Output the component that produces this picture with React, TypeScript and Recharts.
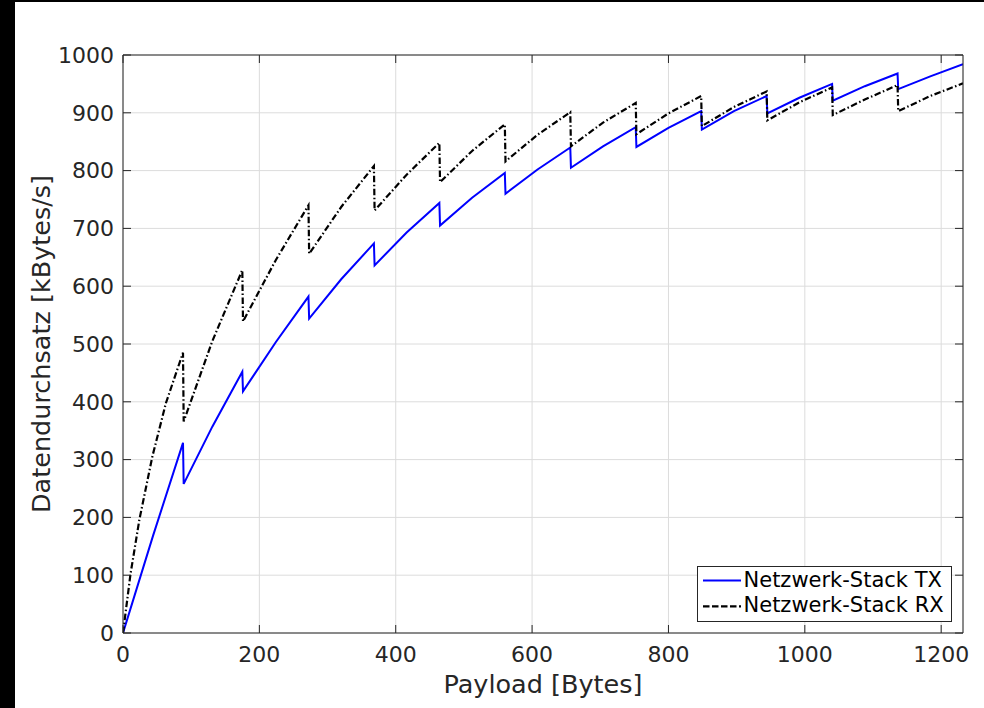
import React from 'react';
import { LineChart, Line, XAxis, YAxis, CartesianGrid, Legend } from 'recharts';

// ---- data ----
const xTicks = [0, 200, 400, 600, 800, 1000, 1200];
const yTicks = [0, 100, 200, 300, 400, 500, 600, 700, 800, 900, 1000];

const txPayload = [0, 44, 88, 89, 131, 175, 176, 224, 272, 273, 320, 368, 369, 416, 464, 465, 512, 560, 561, 608, 656, 657, 704, 752, 753, 800, 848, 849, 896, 944, 945, 992, 1040, 1041, 1088, 1136, 1137, 1184, 1232];
const txThroughput = [0, 168, 329, 258, 357, 452, 418, 503, 582, 544, 612, 674, 636, 693, 744, 705, 753, 796, 760, 802, 840, 805, 842, 875, 841, 874, 903, 871, 903, 929, 899, 926, 950, 921, 946, 968, 941, 963, 984];

const rxPayload = [0, 11, 24, 43, 63, 88, 89, 131, 175, 176, 224, 272, 273, 320, 368, 369, 416, 464, 465, 512, 560, 561, 608, 656, 657, 704, 752, 753, 800, 848, 849, 896, 944, 945, 992, 1040, 1041, 1088, 1136, 1137, 1184, 1232];
const rxThroughput = [0, 102, 196, 305, 398, 485, 366, 505, 628, 539, 645, 740, 656, 737, 808, 731, 793, 848, 780, 834, 880, 816, 862, 901, 842, 883, 917, 863, 899, 929, 877, 910, 937, 887, 918, 944, 896, 923, 948, 903, 929, 951];

const seriesNames = ['Netzwerk-Stack TX', 'Netzwerk-Stack RX'];
const xLabel = 'Payload [Bytes]';
const yLabel = 'Datendurchsatz [kBytes/s]';

const txData = txPayload.map((x, i) => ({ x, y: txThroughput[i] }));
const rxData = rxPayload.map((x, i) => ({ x, y: rxThroughput[i] }));

const FONT = 'DejaVu Sans';
const AXIS = '#262626';
const X_DOMAIN: [number, number] = [0, 1232];
const Y_DOMAIN: [number, number] = [0, 1000];
const RX_DASH = '6.5 2.5 1.5 2.5';

const renderLegend = () => (
  <svg width={256} height={57} style={{ display: 'block' }}>
    <rect x={0.5} y={0.5} width={254} height={55} fill="#ffffff" stroke={AXIS} strokeWidth={1} />
    <line x1={6} x2={44} y1={14.6} y2={14.6} stroke="#0000ff" strokeWidth={2} />
    <text x={46.5} y={21} fontFamily={FONT} fontSize={21} fill="#000">{seriesNames[0]}</text>
    <line x1={6} x2={44} y1={40.3} y2={40.3} stroke="#000" strokeWidth={2.2} strokeDasharray="6.5 2.5" />
    <text x={46.5} y={46} fontFamily={FONT} fontSize={21} fill="#000">{seriesNames[1]}</text>
  </svg>
);

export default function App() {
  return (
    <div style={{ position: 'absolute', left: 0, top: 0, width: 984, height: 708, background: '#000' }}>
      <div style={{ position: 'absolute', left: 15, top: 2, width: 969, height: 706, background: '#fff' }} />
      <div style={{ position: 'absolute', left: 0, top: 0 }}>
        <LineChart width={984} height={708} margin={{ top: 55, right: 21, bottom: 0, left: 0 }}>
          <CartesianGrid stroke="#dcdcdc" strokeWidth={1} />
          <XAxis
            dataKey="x"
            type="number"
            domain={X_DOMAIN}
            ticks={xTicks}
            allowDataOverflow
            height={75}
            tickSize={0}
            tickMargin={13}
            tickLine={false}
            stroke={AXIS}
            axisLine={{ stroke: AXIS, strokeWidth: 1 }}
            tick={{ fill: AXIS, fontSize: 22, fontFamily: FONT }}
            label={{
              content: (p: any) => {
                const vb = p.viewBox;
                return (
                  <text x={vb.x + vb.width / 2} y={vb.y + 60} textAnchor="middle" fontFamily={FONT} fontSize={25.5} fill={AXIS}>
                    {xLabel}
                  </text>
                );
              },
            }}
          />
          <XAxis xAxisId="bm" dataKey="x" type="number" domain={X_DOMAIN} ticks={xTicks} allowDataOverflow orientation="bottom" mirror tickSize={8} axisLine={false} tickLine={{ stroke: AXIS, strokeWidth: 1 }} tick={{ fill: 'none', fontSize: 1 }} tickFormatter={() => ''} />
          <XAxis xAxisId="tm" dataKey="x" type="number" domain={X_DOMAIN} ticks={xTicks} allowDataOverflow orientation="top" mirror tickSize={8} axisLine={{ stroke: AXIS }} tickLine={{ stroke: AXIS, strokeWidth: 1 }} tick={{ fill: 'none', fontSize: 1 }} tickFormatter={() => ''} />
          <YAxis
            type="number"
            domain={Y_DOMAIN}
            ticks={yTicks}
            allowDataOverflow
            width={123}
            tickSize={0}
            tickMargin={9}
            tickLine={false}
            axisLine={{ stroke: AXIS, strokeWidth: 1 }}
            tick={{ fill: AXIS, fontSize: 22, fontFamily: FONT }}
            label={{
              content: (p: any) => {
                const vb = p.viewBox;
                const cx = vb.x + 50;
                const cy = vb.y + vb.height / 2;
                return (
                  <text x={cx} y={cy} transform={`rotate(-90 ${cx} ${cy})`} textAnchor="middle" fontFamily={FONT} fontSize={25.5} fill={AXIS}>
                    {yLabel}
                  </text>
                );
              },
            }}
          />
          <YAxis yAxisId="lm" type="number" domain={Y_DOMAIN} ticks={yTicks} allowDataOverflow orientation="left" mirror tickSize={8} axisLine={false} tickLine={{ stroke: AXIS, strokeWidth: 1 }} tick={{ fill: 'none', fontSize: 1 }} tickFormatter={() => ''} />
          <YAxis yAxisId="rm" type="number" domain={Y_DOMAIN} ticks={yTicks} allowDataOverflow orientation="right" mirror tickSize={8} axisLine={{ stroke: AXIS }} tickLine={{ stroke: AXIS, strokeWidth: 1 }} tick={{ fill: 'none', fontSize: 1 }} tickFormatter={() => ''} />
          <Line data={txData} dataKey="y" name={seriesNames[0]} type="linear" stroke="#0000ff" strokeWidth={2} dot={false} activeDot={false} isAnimationActive={false} />
          <Line data={rxData} dataKey="y" name={seriesNames[1]} type="linear" stroke="#000000" strokeWidth={2.2} strokeDasharray={RX_DASH} dot={false} activeDot={false} isAnimationActive={false} />
          <Legend
            layout="vertical"
            align="center"
            verticalAlign="middle"
            content={renderLegend}
            wrapperStyle={{ position: 'absolute', left: 697, top: 566, width: 256, height: 57, margin: 0 }}
          />
        </LineChart>
      </div>
    </div>
  );
}
